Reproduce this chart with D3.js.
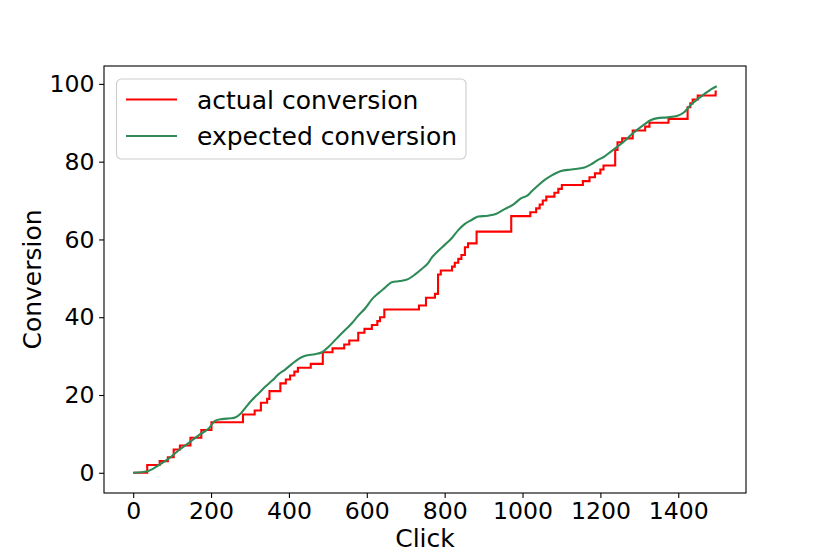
<!DOCTYPE html>
<html>
<head>
<meta charset="utf-8">
<script src="https://cdn.jsdelivr.net/npm/d3@7"></script>
<style>
  html, body { margin: 0; padding: 0; background: #fff; }
  svg { display: block; }
  text { font-family: "DejaVu Sans", sans-serif; fill: #000; }
</style>
</head>
<body>
<svg id="chart" width="830" height="554"></svg>
<script>
// ---- data ----
// actual conversion: step points [click, cumulative conversions]
const actualClicks = [0, 36, 68, 89, 104, 120, 147, 175, 201, 282, 312, 328, 344, 350, 378, 392, 403, 414, 423, 456, 487,
  512, 542, 555, 578, 594, 613, 627, 634, 645, 734, 752, 775, 783, 790, 819, 826, 835, 843, 852, 860, 882, 971,
  1020, 1035, 1044, 1052, 1061, 1082, 1092, 1101, 1155, 1172, 1186, 1200, 1208, 1238, 1244, 1256, 1283, 1315, 1326,
  1375, 1424, 1431, 1437, 1450, 1496, 1499];
const actualValues = [0, 2, 3, 4, 6, 7, 9, 11, 13, 15, 16, 18, 19, 21, 23, 24, 25, 26, 27, 28, 31,
  32, 33, 34, 36, 37, 38, 39, 40, 42, 43, 45, 46, 51, 52, 53, 54, 55, 56, 58, 59, 62, 66,
  67, 68, 69, 70, 71, 72, 73, 74, 75, 76, 77, 78, 79, 83, 85, 86, 88, 89, 90,
  91, 94, 95, 96, 97, 98, 98];

// expected conversion: sampled points [click, value]
const expectedClicks = [0, 36, 66, 92, 117, 143, 169, 194, 211, 228, 250, 262, 275, 288, 305, 322, 339, 357, 373, 391,
  408, 425, 442, 467, 485, 502, 527, 544, 561, 578, 596, 613, 630, 647, 664, 685, 706, 724, 741, 758,
  766, 783, 800, 818, 835, 852, 869, 886, 911, 933, 954, 975, 997, 1014, 1023, 1039, 1057, 1074, 1099, 1125,
  1159, 1176, 1193, 1210, 1227, 1244, 1262, 1279, 1296, 1313, 1330, 1347, 1372, 1398, 1415, 1432, 1450, 1466, 1484, 1499];
const expectedValues = [0, 0.4, 2.0, 3.7, 5.8, 7.7, 9.7, 11.4, 13.4, 13.8, 14.0, 14.2, 15.1, 16.7, 18.7, 20.4, 22.1, 23.7, 25.3, 26.6,
  28.0, 29.3, 30.1, 30.5, 31.0, 32.4, 35.0, 36.7, 38.4, 40.4, 42.3, 44.6, 46.2, 47.6, 49.0, 49.3, 49.8, 51.0, 52.4, 54.0,
  55.2, 57.0, 58.6, 60.3, 62.4, 64.0, 65.0, 65.9, 66.1, 66.6, 67.8, 68.9, 70.6, 71.4, 72.3, 73.8, 75.3, 76.4, 77.6, 78.0,
  78.5, 79.3, 80.4, 81.3, 82.6, 83.9, 85.3, 86.9, 88.3, 89.6, 90.7, 91.2, 91.4, 91.8, 92.7, 94.6, 96.1, 97.3, 98.6, 99.4];

const xTicks = [0, 200, 400, 600, 800, 1000, 1200, 1400];
const yTicks = [0, 20, 40, 60, 80, 100];
const seriesNames = ["actual conversion", "expected conversion"];
const seriesColors = ["#ff0000", "#2e8b57"];

// ---- layout ----
const svg = d3.select("#chart");
const mLeft = 104, mRight = 746, mTop = 66, mBottom = 493;
const x = d3.scaleLinear().domain([-75, 1574]).range([mLeft, mRight]);
const y = d3.scaleLinear().domain([-5.2, 104.6]).range([mBottom, mTop]);

const actual = actualClicks.map((c, i) => [c, actualValues[i]]);
const expected = expectedClicks.map((c, i) => [c, expectedValues[i]]);

svg.append("defs").append("clipPath").attr("id", "clip")
  .append("rect").attr("x", mLeft).attr("y", mTop).attr("width", mRight - mLeft).attr("height", mBottom - mTop);

const plot = svg.append("g").attr("clip-path", "url(#clip)");

plot.append("path")
  .datum(actual)
  .attr("fill", "none")
  .attr("stroke", seriesColors[0])
  .attr("stroke-width", 2.1)
  .attr("stroke-linejoin", "miter")
  .attr("d", d3.line().x(d => x(d[0])).y(d => y(d[1])).curve(d3.curveStepAfter));

plot.append("path")
  .datum(expected)
  .attr("fill", "none")
  .attr("stroke", seriesColors[1])
  .attr("stroke-width", 2.1)
  .attr("stroke-linejoin", "round")
  .attr("d", d3.line().x(d => x(d[0])).y(d => y(d[1])).curve(d3.curveMonotoneX));

// ---- axes ----
const xAxis = d3.axisBottom(x).tickValues(xTicks).tickSize(4.9).tickPadding(4.5).tickFormat(d3.format("d"));
const yAxis = d3.axisLeft(y).tickValues(yTicks).tickSize(4.9).tickPadding(4.5).tickFormat(d3.format("d"));

const gx = svg.append("g").attr("transform", `translate(0,${mBottom})`).call(xAxis);
const gy = svg.append("g").attr("transform", `translate(${mLeft},0)`).call(yAxis);
[gx, gy].forEach(g => {
  g.select(".domain").remove();
  g.selectAll(".tick line").attr("stroke", "#000").attr("stroke-width", 1.1);
  g.selectAll(".tick text").attr("font-size", "23.6px").attr("font-family", "DejaVu Sans").attr("fill", "#000");
});

// frame
svg.append("rect")
  .attr("x", mLeft).attr("y", mTop).attr("width", mRight - mLeft).attr("height", mBottom - mTop)
  .attr("fill", "none").attr("stroke", "#000").attr("stroke-width", 1.1);

// axis labels
svg.append("text")
  .attr("x", (mLeft + mRight) / 2).attr("y", 547)
  .attr("text-anchor", "middle").attr("font-size", "25px")
  .text("Click");
svg.append("text")
  .attr("transform", `translate(41,${(mTop + mBottom) / 2}) rotate(-90)`)
  .attr("text-anchor", "middle").attr("font-size", "25px")
  .text("Conversion");

// ---- legend ----
const lg = svg.append("g");
lg.append("rect")
  .attr("x", 116.5).attr("y", 79).attr("width", 349.5).attr("height", 80)
  .attr("rx", 5).attr("ry", 5)
  .attr("fill", "#fff").attr("fill-opacity", 0.8)
  .attr("stroke", "#cccccc").attr("stroke-width", 1.1);
const legendY = [99.5, 136];
seriesNames.forEach((name, i) => {
  lg.append("line")
    .attr("x1", 126).attr("x2", 177).attr("y1", legendY[i]).attr("y2", legendY[i])
    .attr("stroke", seriesColors[i]).attr("stroke-width", 2.1);
  lg.append("text")
    .attr("x", 197).attr("y", legendY[i]).attr("dy", "0.36em")
    .attr("font-size", "25px")
    .text(name);
});
</script>
</body>
</html>
